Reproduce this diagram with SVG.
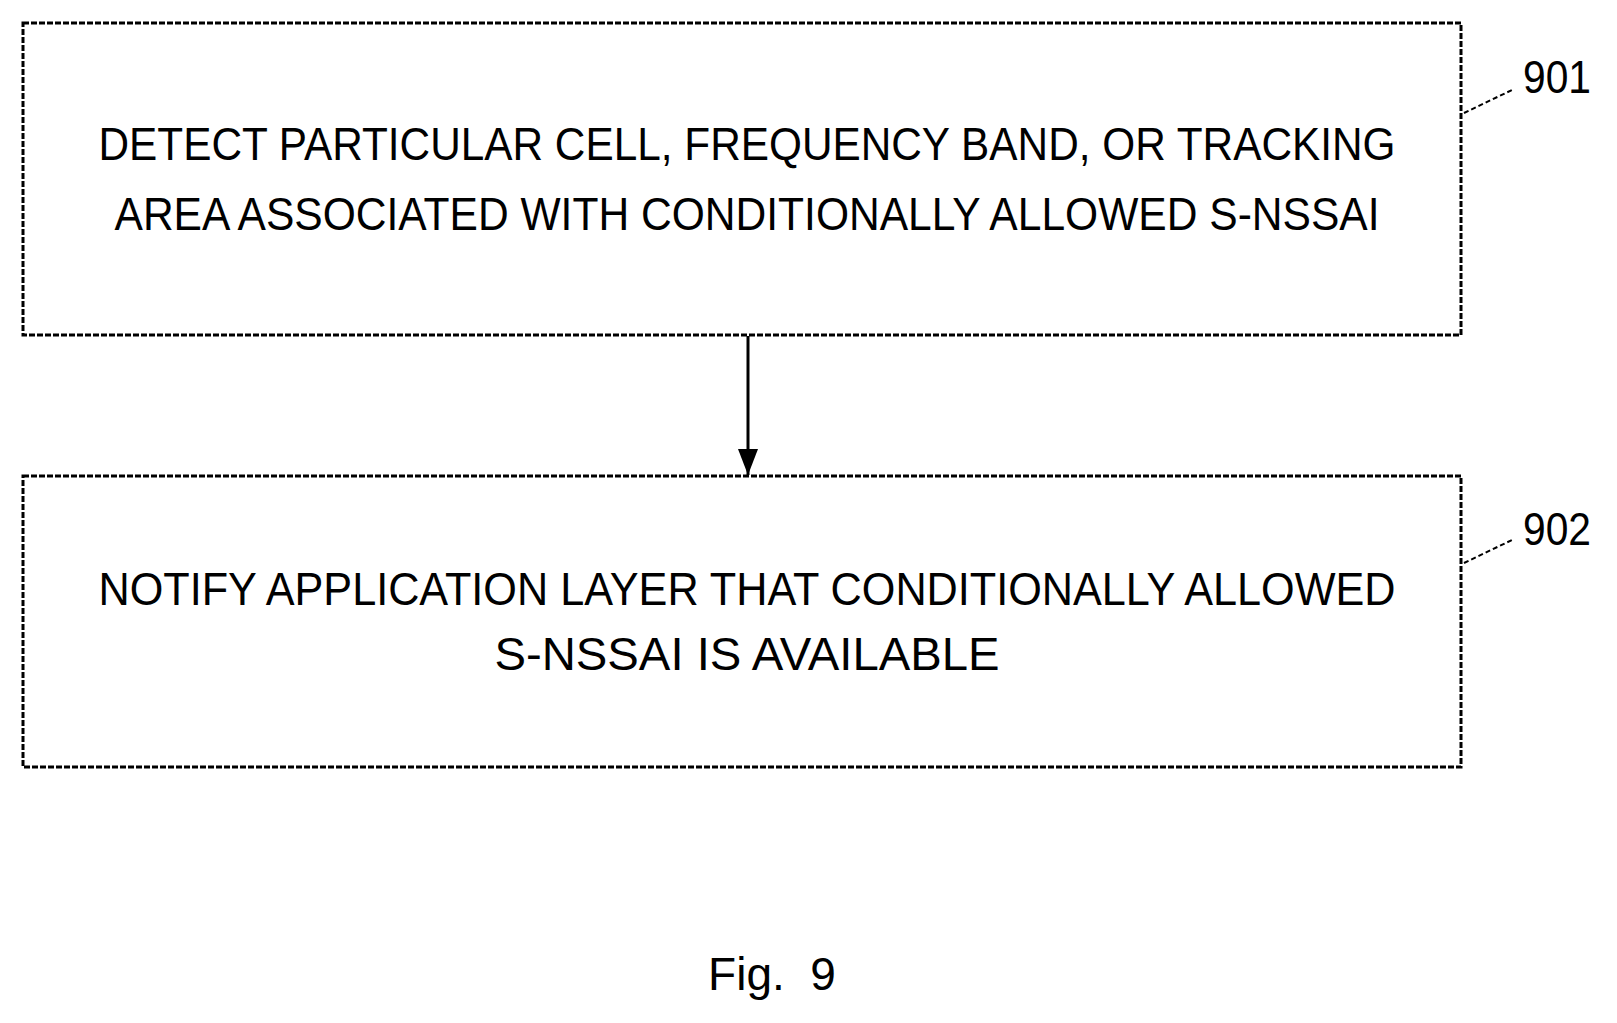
<svg xmlns="http://www.w3.org/2000/svg" width="1617" height="1023" viewBox="0 0 1617 1023">
<style>
.b{fill:#fff;stroke:#000;stroke-width:3;stroke-dasharray:6 2}
.t{font-family:"Liberation Sans",sans-serif;font-size:46px;text-anchor:middle;fill:#000}
.l{fill:none;stroke:#000;stroke-width:2;stroke-dasharray:5 3}
</style>
<defs><marker id="a" markerWidth="26" markerHeight="20" refX="26" refY="10" orient="auto" markerUnits="userSpaceOnUse" viewBox="0 0 26 20"><path d="M0,0 L26,10 L0,20 z"/></marker></defs>
<rect width="1617" height="1023" fill="#fff"/>
<g id="n901">
<rect class="b" x="23" y="23" width="1438" height="312"/>
<text class="t" x="747" y="160" textLength="1297" lengthAdjust="spacingAndGlyphs">DETECT PARTICULAR CELL, FREQUENCY BAND, OR TRACKING</text>
<text class="t" x="747" y="230" textLength="1265" lengthAdjust="spacingAndGlyphs">AREA ASSOCIATED WITH CONDITIONALLY ALLOWED S-NSSAI</text>
<text class="t" x="1557" y="93" font-size="48" textLength="68" lengthAdjust="spacingAndGlyphs">901</text>
</g>
<g id="n902">
<rect class="b" x="23" y="476" width="1438" height="291"/>
<text class="t" x="747" y="605" textLength="1297" lengthAdjust="spacingAndGlyphs">NOTIFY APPLICATION LAYER THAT CONDITIONALLY ALLOWED</text>
<text class="t" x="747" y="670" textLength="505" lengthAdjust="spacingAndGlyphs">S-NSSAI IS AVAILABLE</text>
<text class="t" x="1557" y="545" font-size="48" textLength="68" lengthAdjust="spacingAndGlyphs">902</text>
</g>
<g id="connectors">
<line x1="748" y1="336" x2="748" y2="475" stroke="#000" stroke-width="3" marker-end="url(#a)"/>
<path class="l" d="M1464,113 L1512,90"/>
<path class="l" d="M1464,563 L1512,540"/>
</g>
<text class="t" x="772" y="990" font-size="64" xml:space="preserve">Fig.  9</text>
</svg>
